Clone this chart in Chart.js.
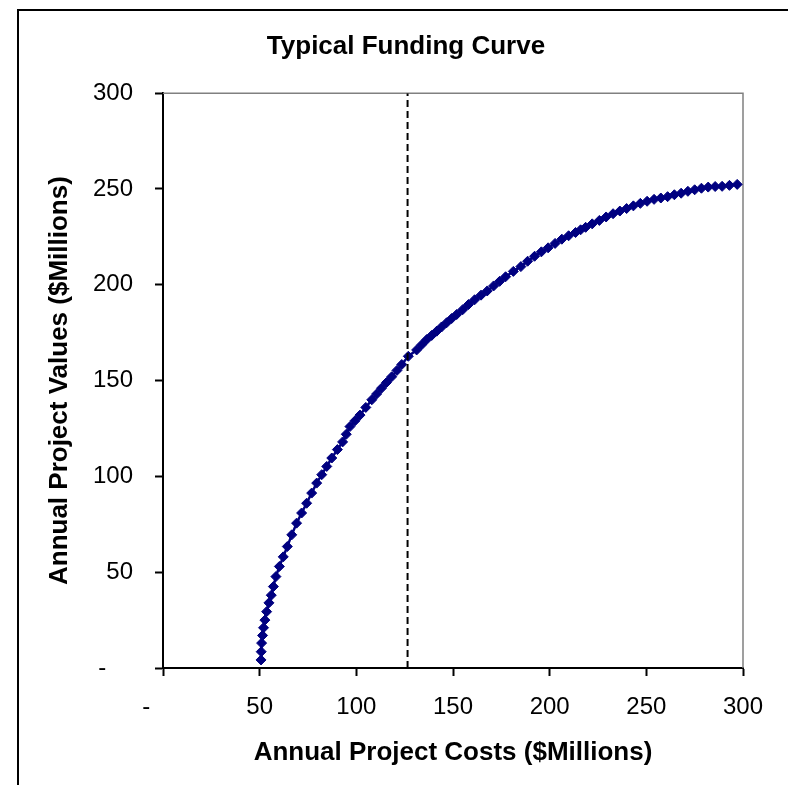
<!DOCTYPE html>
<html>
<head>
<meta charset="utf-8">
<script src="https://cdn.jsdelivr.net/npm/chart.js@4/dist/chart.umd.min.js"></script>
<style>
  html, body { margin: 0; padding: 0; background: #fff; }
  canvas { display: block; }
</style>
</head>
<body>
<canvas id="chart" width="788" height="785"></canvas>
<script>
// Annual project costs ($M) along the funding curve
const costs = [
  50.7, 50.8, 51.0, 51.5, 52.0, 52.7, 53.6, 54.8, 56.0, 57.1,
  58.4, 60.2, 62.2, 64.3, 66.6, 69.1, 71.7, 74.3, 76.9, 79.5,
  82.1, 84.7, 87.3, 90.2, 92.9, 94.8, 96.7, 99.3, 101.9, 104.9,
  108.0, 110.5, 113.0, 115.6, 118.3, 121.0, 123.5, 126.9, 131.2, 133.8,
  136.4, 139.0, 141.6, 144.1, 146.7, 149.3, 151.9, 155.0, 158.0, 161.2,
  164.5, 167.7, 171.0, 174.1, 177.2, 181.2, 185.1, 188.6, 192.2, 195.7,
  199.2, 202.8, 206.3, 209.8, 213.4, 216.0, 218.6, 222.0, 225.7, 229.2,
  232.8, 236.3, 239.8, 243.3, 246.9, 250.4, 254.0, 257.5, 261.0, 264.5,
  268.0, 271.5, 275.0, 278.5, 282.0, 285.6, 289.2, 293.0, 297.0
];
// Annual project values ($M) for each cost point
const values = [
  4.2, 8.5, 13.0, 17.0, 21.0, 25.0, 29.4, 34.0, 38.0, 42.5,
  47.7, 53.0, 58.0, 63.4, 69.5, 75.6, 80.9, 86.0, 91.3, 96.5,
  100.9, 105.2, 109.6, 114.0, 118.0, 122.0, 126.0, 129.0, 132.0, 136.0,
  140.0, 143.0, 146.0, 149.0, 152.0, 155.3, 158.4, 162.7, 166.0, 168.7,
  171.4, 173.6, 175.8, 178.0, 180.2, 182.4, 184.5, 187.0, 189.7, 192.2,
  194.6, 196.8, 199.4, 201.8, 204.2, 207.0, 209.5, 212.3, 214.9, 217.2,
  219.3, 221.6, 223.8, 225.6, 227.3, 228.7, 230.0, 231.8, 233.6, 235.4,
  237.1, 238.5, 239.8, 241.2, 242.5, 243.6, 244.6, 245.3, 246.0, 247.0,
  247.8, 248.8, 249.6, 250.4, 251.0, 251.3, 251.4, 251.9, 252.4
];
// Budget cut-off marked by the dashed vertical line
const cutoffCost = 126.5;
const axisMin = 0;
const axisMax = 300;
const axisStep = 50;

const curvePoints = costs.map((c, i) => ({ x: c, y: values[i] }));
const cutoffPoints = [{ x: cutoffCost, y: axisMin }, { x: cutoffCost, y: axisMax }];

const FONT = "'Liberation Sans', Arial, Helvetica, sans-serif";
const NAVY = '#000080';

// zero is shown as a dash, as in accounting number format
const fmtTick = (v, pad) => (v === 0 ? '-' + ' '.repeat(pad) : String(v));

const frame = {
  id: 'frame',
  beforeDraw(chart) {
    const ctx = chart.ctx;
    ctx.save();
    ctx.fillStyle = '#fff';
    ctx.fillRect(0, 0, chart.width, chart.height);
    ctx.strokeStyle = '#000';
    ctx.lineWidth = 2;
    ctx.strokeRect(18, 10, chart.width + 20, chart.height + 20);
    ctx.restore();
  },
  beforeDatasetsDraw(chart) {
    const { ctx, chartArea: a } = chart;
    ctx.save();
    ctx.strokeStyle = '#808080';
    ctx.lineWidth = 1.5;
    ctx.beginPath();
    ctx.moveTo(a.left, a.top);
    ctx.lineTo(a.right, a.top);
    ctx.lineTo(a.right, a.bottom);
    ctx.stroke();
    ctx.restore();
  }
};

new Chart(document.getElementById('chart'), {
  type: 'scatter',
  data: {
    datasets: [
      {
        label: 'Cut-off',
        data: cutoffPoints,
        showLine: true,
        borderColor: '#000',
        borderWidth: 2,
        borderDash: [7, 4],
        pointRadius: 0,
        order: 0
      },
      {
        label: 'Funding curve',
        data: curvePoints,
        showLine: true,
        borderColor: NAVY,
        borderWidth: 2.5,
        backgroundColor: NAVY,
        pointStyle: 'rectRot',
        pointRadius: 5,
        pointBorderWidth: 1,
        pointBorderColor: NAVY,
        pointBackgroundColor: NAVY,
        order: 1
      }
    ]
  },
  options: {
    responsive: false,
    animation: false,
    events: [],
    layout: { padding: { left: 24, right: 0, top: 0, bottom: 0 } },
    plugins: {
      legend: { display: false },
      tooltip: { enabled: false },
      title: {
        display: true,
        text: 'Typical Funding Curve',
        color: '#000',
        font: { family: FONT, size: 26, weight: 'bold' },
        padding: { top: 31, bottom: 31 }
      }
    },
    scales: {
      x: {
        type: 'linear',
        min: axisMin,
        max: axisMax,
        afterFit(scale) { scale.height = 117; },
        border: { display: true, color: '#000', width: 2 },
        grid: { drawOnChartArea: false, drawTicks: true, tickLength: 8, tickWidth: 2, color: '#000' },
        ticks: {
          stepSize: axisStep,
          color: '#000',
          padding: 17,
          maxRotation: 0,
          font: { family: FONT, size: 24 },
          callback: (v) => fmtTick(v, 5)
        },
        title: {
          display: true,
          text: 'Annual Project Costs ($Millions)',
          color: '#000',
          font: { family: FONT, size: 26, weight: 'bold' },
          padding: { top: 0, bottom: 17 }
        }
      },
      y: {
        type: 'linear',
        min: axisMin,
        max: axisMax,
        afterFit(scale) { scale.width = 139; },
        border: { display: true, color: '#000', width: 2 },
        grid: { drawOnChartArea: false, drawTicks: true, tickLength: 8, tickWidth: 2, color: '#000' },
        ticks: {
          stepSize: axisStep,
          color: '#000',
          padding: 22,
          font: { family: FONT, size: 24 },
          callback: (v) => fmtTick(v, 4)
        },
        title: {
          display: true,
          text: 'Annual Project Values ($Millions)',
          color: '#000',
          font: { family: FONT, size: 26, weight: 'bold' },
          padding: { top: 20, bottom: 0 }
        }
      },
      // empty right-hand margin beside the plot
      yMargin: {
        type: 'linear',
        position: 'right',
        min: axisMin,
        max: axisMax,
        afterFit(scale) { scale.width = 45; },
        border: { display: false },
        grid: { display: false },
        ticks: { display: false }
      }
    }
  },
  plugins: [frame]
});
</script>
</body>
</html>
